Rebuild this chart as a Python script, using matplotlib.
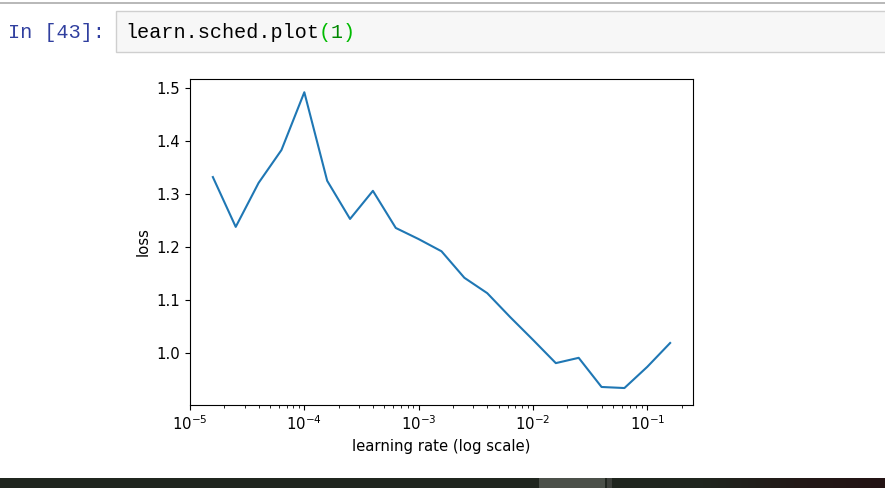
import matplotlib.pyplot as plt
import numpy as np
from matplotlib.patches import Rectangle
from matplotlib.colors import LinearSegmentedColormap

# lr finder output
lrs = [10 ** (-5 + 0.2 * k) for k in range(1, 22)]
losses = [1.332, 1.238, 1.321, 1.383, 1.492, 1.325, 1.253, 1.306, 1.236, 1.215,
          1.192, 1.142, 1.113, 1.068, 1.025, 0.981, 0.991, 0.936, 0.934, 0.974, 1.019]

W, H = 885, 488
fig = plt.figure(figsize=(W / 100, H / 100), dpi=100)
fig.patch.set_facecolor("white")

# notebook chrome drawn in pixel space
bg = fig.add_axes([0, 0, 1, 1])
bg.set_xlim(0, W)
bg.set_ylim(H, 0)
bg.axis("off")
bg.plot([0, W], [2.5, 2.5], color="#ababab", lw=1.2)
bg.add_patch(Rectangle((115.5, 10.5), 800, 41, facecolor="#f7f7f7", edgecolor="#cfcfcf", lw=1))
bg.text(8, 32, "In [43]:", family="Liberation Mono", fontsize=14.5, color="#303F9F", va="center")

cw = 14.5 * 100 / 72 * 0.6
x0 = 125
parts = [("learn.sched.plot", "#000000"), ("(", "#00bb00"), ("1", "#008800"), (")", "#00bb00")]
n = 0
for s, c in parts:
    bg.text(x0 + n * cw, 32, s, family="Liberation Mono", fontsize=14.5, color=c, va="center")
    n += len(s)

# taskbar strip at the bottom
grad = LinearSegmentedColormap.from_list("bar", ["#20261f", "#20261f", "#231a18", "#241314"])
bg.imshow(np.linspace(0, 1, 256)[None, :], cmap=grad, aspect="auto",
          extent=(612, W, 488, 478), zorder=1)
bg.add_patch(Rectangle((0, 478), 612, 10, facecolor="#20261f", edgecolor="none"))
bg.add_patch(Rectangle((539, 478), 66, 10, facecolor="#4b5049", edgecolor="none"))
bg.add_patch(Rectangle((607, 478), 5, 10, facecolor="#3d403b", edgecolor="none"))
bg.set_xlim(0, W)
bg.set_ylim(H, 0)

ax = fig.add_axes([190 / W, 1 - 405 / H, 503 / W, 326 / H])
ax.plot(lrs, losses, color="#1f77b4", lw=1.5)
ax.set_xscale("log")
ax.set_xlim(1e-5, 10 ** -0.6)
ax.set_ylim(0.902, 1.517)
ax.set_yticks([1.0, 1.1, 1.2, 1.3, 1.4, 1.5])
ax.set_xlabel("learning rate (log scale)", fontsize=10.7)
ax.set_ylabel("loss", fontsize=10.7)
ax.tick_params(labelsize=10.7)

fig.savefig("out.png", dpi=100)
